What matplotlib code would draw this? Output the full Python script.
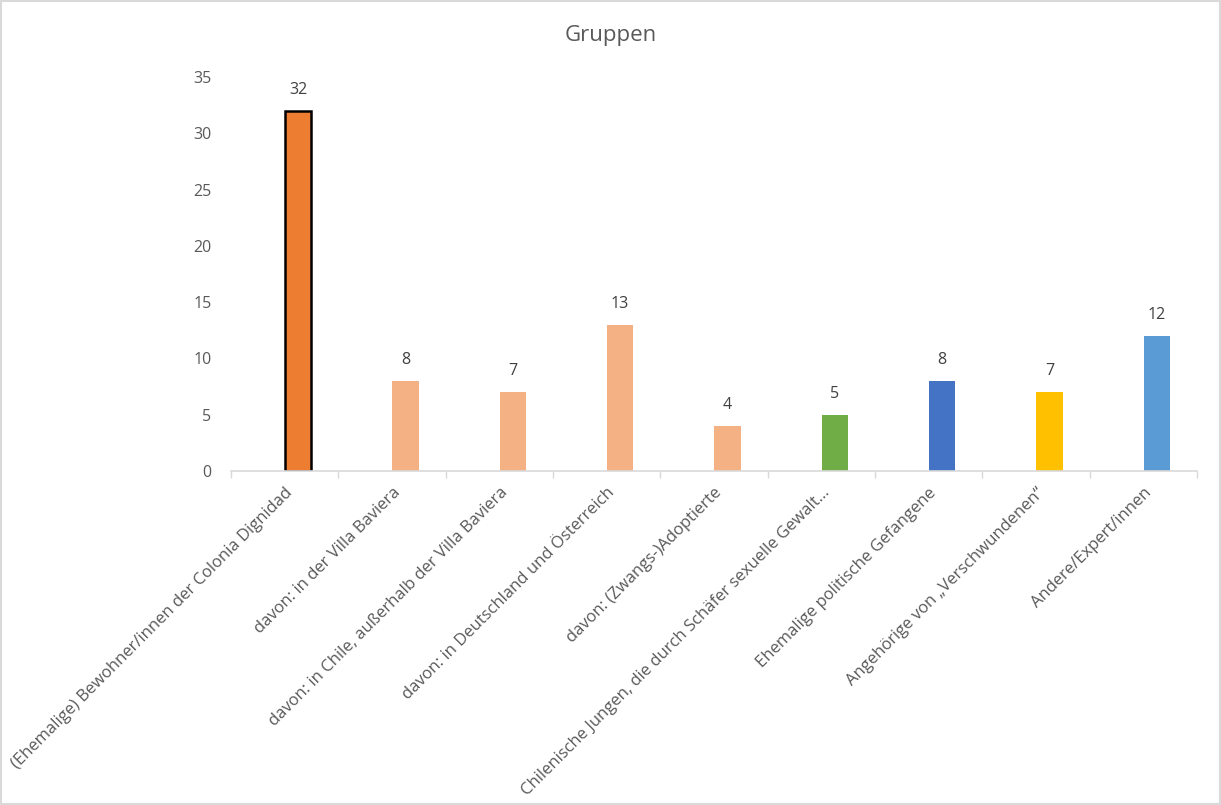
import matplotlib
matplotlib.use("Agg")
import matplotlib.pyplot as plt
from matplotlib.patches import Rectangle

categories = [
    "(Ehemalige) Bewohner/innen der Colonia Dignidad",
    "davon: in der Villa Baviera",
    "davon: in Chile, außerhalb der Villa Baviera",
    "davon: in Deutschland und Österreich",
    "davon: (Zwangs-)Adoptierte",
    "Chilenische Jungen, die durch Schäfer sexuelle Gewalt…",
    "Ehemalige politische Gefangene",
    "Angehörige von „Verschwundenen“",
    "Andere/Expert/innen",
]
values = [32, 8, 7, 13, 4, 5, 8, 7, 12]
colors = ["#ED7D31", "#F4B183", "#F4B183", "#F4B183", "#F4B183",
          "#70AD47", "#4472C4", "#FFC000", "#5B9BD5"]
edgecolors = ["black"] + ["none"] * 8
yticks = [0, 5, 10, 15, 20, 25, 30, 35]

plt.rcParams['font.family'] = ['Open Sans', 'DejaVu Sans']
txt = "#595959"

fig = plt.figure(figsize=(12.21, 8.05), dpi=100)
ax = fig.add_axes([231/1221, (805-471)/805, (1197-231)/1221, (471-77)/805])

x = list(range(len(categories)))
offset = 0.125
xb = [xi + offset for xi in x]
ax.bar(xb, values, width=0.245, color=colors, edgecolor=edgecolors, linewidth=1.8)
for xi, v in zip(xb, values):
    ax.text(xi, v + 1.15, str(v), ha="center", va="bottom", fontsize=11.5, color="#404040")

ax.set_xlim(-0.5, len(categories) - 0.5)
ax.set_ylim(0, 35)
ax.set_yticks(yticks)
ax.set_yticklabels([str(t) for t in yticks], fontsize=11.5, color=txt)
ax.tick_params(axis="y", length=0, pad=14)

ax.set_xticks(x)
ax.set_xticklabels(categories, rotation=45, ha="right", rotation_mode="anchor",
                   fontsize=12, color=txt)
ax.tick_params(axis="x", which="major", length=0, pad=10)
ax.set_xticks([i - 0.5 for i in range(len(categories) + 1)], minor=True)
ax.tick_params(axis="x", which="minor", length=5, color="#D9D9D9", width=1)

for s in ["top", "right", "left"]:
    ax.spines[s].set_visible(False)
ax.spines["bottom"].set_color("#D9D9D9")
ax.spines["bottom"].set_linewidth(1.2)

fig.text(0.5, 1 - 36/805, "Gruppen", ha="center", va="center", fontsize=16, color=txt)

fig.patches.append(Rectangle((0.001, 0.001), 0.998, 0.998, transform=fig.transFigure,
                             fill=False, edgecolor="#D9D9D9", linewidth=1.5))

fig.savefig("out.png", dpi=100)
